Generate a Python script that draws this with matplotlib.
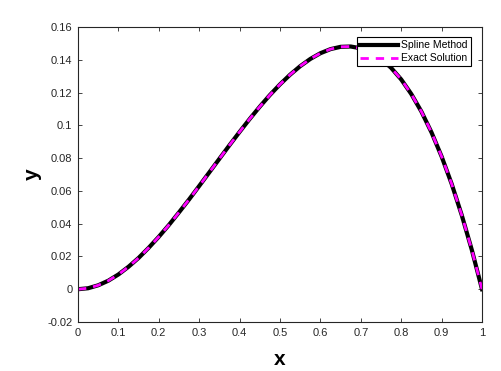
import matplotlib
matplotlib.use("Agg")
import matplotlib.pyplot as plt

x_vals = [0.0, 0.025, 0.05, 0.075, 0.1, 0.125, 0.15, 0.175, 0.2, 0.225, 0.25, 0.275,
          0.3, 0.325, 0.35, 0.375, 0.4, 0.425, 0.45, 0.475, 0.5, 0.525, 0.55, 0.575,
          0.6, 0.625, 0.65, 0.675, 0.7, 0.725, 0.75, 0.775, 0.8, 0.825, 0.85, 0.875,
          0.9, 0.925, 0.95, 0.975, 1.0]
spline_y = [0.0, 0.0006, 0.0024, 0.0052, 0.009, 0.0137, 0.0191, 0.0253, 0.032, 0.0392, 0.0469, 0.0548,
            0.063, 0.0713, 0.0796, 0.0879, 0.096, 0.1039, 0.1114, 0.1185, 0.125, 0.1309, 0.1361, 0.1405,
            0.144, 0.1465, 0.1479, 0.1481, 0.147, 0.1445, 0.1406, 0.1351, 0.128, 0.1191, 0.1084, 0.0957,
            0.081, 0.0642, 0.0451, 0.0238, 0.0]
exact_y = [0.0, 0.0006, 0.0024, 0.0052, 0.009, 0.0137, 0.0191, 0.0253, 0.032, 0.0392, 0.0469, 0.0548,
           0.063, 0.0713, 0.0796, 0.0879, 0.096, 0.1039, 0.1114, 0.1185, 0.125, 0.1309, 0.1361, 0.1405,
           0.144, 0.1465, 0.1479, 0.1481, 0.147, 0.1445, 0.1406, 0.1351, 0.128, 0.1191, 0.1084, 0.0957,
           0.081, 0.0642, 0.0451, 0.0238, 0.0]
x_ticks = [0, 0.1, 0.2, 0.3, 0.4, 0.5, 0.6, 0.7, 0.8, 0.9, 1]
x_tick_labels = ["0", "0.1", "0.2", "0.3", "0.4", "0.5", "0.6", "0.7", "0.8", "0.9", "1"]
y_ticks = [-0.02, 0, 0.02, 0.04, 0.06, 0.08, 0.1, 0.12, 0.14, 0.16]
y_tick_labels = ["-0.02", "0", "0.02", "0.04", "0.06", "0.08", "0.1", "0.12", "0.14", "0.16"]

plt.rcParams['font.family'] = ['Liberation Sans', 'DejaVu Sans']

fig = plt.figure(figsize=(5.01, 3.71), dpi=100)
ax = fig.add_axes([78/501, 1-322/371, 404/501, 295/371])

ax.plot(x_vals, spline_y, color='black', lw=3, label='Spline Method')
ax.plot(x_vals, exact_y, color='#ff00ff', lw=2, ls=(0, (3, 2.5)), label='Exact Solution')

ax.set_xlim(0, 1)
ax.set_ylim(-0.02, 0.16)
ax.set_xticks(x_ticks)
ax.set_xticklabels(x_tick_labels)
ax.set_yticks(y_ticks)
ax.set_yticklabels(y_tick_labels)
ax.tick_params(direction='in', top=True, right=True, labelsize=8, length=3,
               width=0.6, colors='#262626', labelcolor='#262626', pad=4)
for s in ax.spines.values():
    s.set_linewidth(0.8)
    s.set_color('#262626')

ax.set_xlabel('x', fontsize=15, fontweight='bold', labelpad=9)
ax.set_ylabel('y', fontsize=15, fontweight='bold', labelpad=4)

leg = ax.legend(loc='upper right', bbox_to_anchor=(0.973, 0.966), fontsize=7.5,
                frameon=True, fancybox=False, edgecolor='black', framealpha=1,
                handlelength=3.7, handletextpad=0.3, borderpad=0.3, labelspacing=0.3,
                borderaxespad=0)
leg.get_frame().set_linewidth(0.8)

fig.savefig('out.png', dpi=100)
